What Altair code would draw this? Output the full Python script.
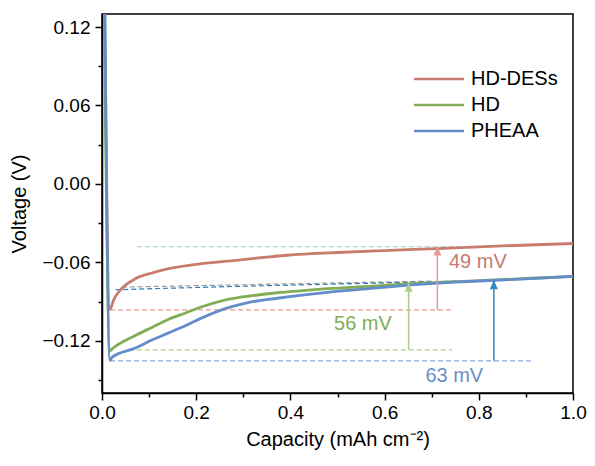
import altair as alt
import pandas as pd

FONT = "Liberation Sans"

# ---- data ----
series_names = ["HD-DESs", "HD", "PHEAA"]
series_colors = ["#C97B6E", "#83AD55", "#638DC8"]

cap_hddess = [0.0035, 0.017, 0.025, 0.035, 0.0708, 0.106, 0.1415, 0.212, 0.283, 0.393, 0.5, 0.6, 0.711, 0.85, 1.0]
v_hddess = [0.20, -0.096, -0.0885, -0.0829, -0.0726, -0.0682, -0.0649, -0.061, -0.0585, -0.0546, -0.0525, -0.051, -0.0495, -0.0475, -0.0456]

cap_hd = [0.003, 0.017, 0.021, 0.0708, 0.106, 0.1415, 0.177, 0.212, 0.265, 0.32, 0.372, 0.42, 0.478, 0.584, 0.651, 0.8, 0.9, 1.0]
v_hd = [0.20, -0.1277, -0.1264, -0.116, -0.1098, -0.1036, -0.0988, -0.0940, -0.0885, -0.0855, -0.0833, -0.0818, -0.0802, -0.0780, -0.0764, -0.0740, -0.0724, -0.0708]

cap_pheaa = [0.0045, 0.017, 0.021, 0.0708, 0.106, 0.1415, 0.177, 0.212, 0.265, 0.308, 0.372, 0.42, 0.478, 0.584, 0.651, 0.75, 0.832, 0.9, 1.0]
v_pheaa = [0.20, -0.135, -0.1328, -0.1256, -0.1195, -0.1140, -0.1085, -0.1025, -0.0950, -0.0910, -0.0875, -0.0853, -0.0830, -0.0796, -0.0775, -0.0752, -0.0738, -0.0726, -0.0708]

# dashed guide lines
guide_ids = ["cyan", "gray", "blue", "red", "green", "lightblue"]
guide_x = [[0.074, 0.80], [0.042, 0.42, 0.70], [0.028, 0.265, 0.83], [0.017, 0.743], [0.057, 0.743], [0.017, 0.913]]
guide_y = [[-0.048, -0.048], [-0.079, -0.0763, -0.0744], [-0.081, -0.0786, -0.0738],
           [-0.0964, -0.0964], [-0.127, -0.127], [-0.1354, -0.1354]]
guide_colors = ["#A8DCD6", "#9A9A9A", "#2A7FC0", "#E39C92", "#B9D08F", "#86A8DD"]

# arrows
arrow_x = [0.712, 0.651, 0.832]
arrow_from = [-0.0964, -0.127, -0.1354]
arrow_to = [-0.048, -0.0758, -0.0738]
arrow_colors = ["#E39C92", "#AFCB8C", "#2F87C6"]

# annotations
label_text = ["49 mV", "56 mV", "63 mV"]
label_x = [0.798, 0.554, 0.748]
label_y = [-0.060, -0.107, -0.147]
label_colors = ["#C97B6E", "#83AD55", "#6A8FC8"]

x_ticks = [round(i * 0.1, 1) for i in range(11)]
y_ticks = [-0.15, -0.12, -0.09, -0.06, -0.03, 0.0, 0.03, 0.06, 0.09, 0.12]

# ---- build tables ----
rows = []
for name, xs, ys in [("HD-DESs", cap_hddess, v_hddess), ("HD", cap_hd, v_hd), ("PHEAA", cap_pheaa, v_pheaa)]:
    for i, (a, b) in enumerate(zip(xs, ys)):
        rows.append({"series": name, "cap": a, "v": b, "ord": i})
curves = pd.DataFrame(rows)

grows = []
for gid, xs, ys, col in zip(guide_ids, guide_x, guide_y, guide_colors):
    for i, (a, b) in enumerate(zip(xs, ys)):
        grows.append({"gid": gid, "cap": a, "v": b, "col": col, "ord": i})
guides = pd.DataFrame(grows)

arrows = pd.DataFrame({"cap": arrow_x, "v0": arrow_from, "v1": arrow_to, "col": arrow_colors})
labels = pd.DataFrame({"cap": label_x, "v": label_y, "txt": label_text, "col": label_colors})

xscale = alt.Scale(domain=[0, 1], nice=False, zero=False)
yscale = alt.Scale(domain=[-0.16, 0.13], nice=False, zero=False)

x_axis = alt.Axis(
    values=x_ticks, format=".1f", title="Capacity (mAh cm⁻²)",
    labelExpr="abs(datum.value*5 - round(datum.value*5)) < 0.001 ? datum.label : ''",
    tickSize={"condition": {"test": "abs(datum.value*5 - round(datum.value*5)) < 0.001", "value": 7}, "value": 4},
    labelOverlap=False, labelFlush=False, grid=False,
    labelPadding=3, titlePadding=7,
)
y_axis = alt.Axis(
    values=y_ticks, format=".2f", title="Voltage (V)",
    labelExpr="abs(datum.value/0.06 - round(datum.value/0.06)) < 0.001 ? datum.label : ''",
    tickSize={"condition": {"test": "abs(datum.value/0.06 - round(datum.value/0.06)) < 0.001", "value": 7}, "value": 4},
    labelOverlap=False, labelFlush=False, grid=False,
    labelPadding=5, titlePadding=12,
)

X = alt.X("cap:Q", scale=xscale, axis=x_axis)
Y = alt.Y("v:Q", scale=yscale, axis=y_axis)

guide_layer = alt.Chart(guides).mark_line(strokeDash=[5, 3], strokeWidth=1.2, clip=True).encode(
    x=alt.X("cap:Q", scale=xscale), y=alt.Y("v:Q", scale=yscale),
    detail="gid:N", order="ord:Q", color=alt.Color("col:N", scale=None),
)

curve_layer = alt.Chart(curves).mark_line(strokeWidth=2.8, clip=True, interpolate="monotone").encode(
    x=X, y=Y, order="ord:Q",
    color=alt.Color(
        "series:N",
        scale=alt.Scale(domain=series_names, range=series_colors),
        sort=series_names,
        legend=alt.Legend(
            title=None, orient="none", legendX=327, legendY=55,
            symbolType="M-5,0L5,0", symbolSize=100, symbolStrokeWidth=2.5,
            labelFontSize=20, labelFont=FONT, labelOffset=22, rowPadding=6,
            labelColor="black",
        ),
    ),
)

stem_layer = alt.Chart(arrows).mark_rule(strokeWidth=1.5).encode(
    x=alt.X("cap:Q", scale=xscale), y=alt.Y("v0:Q", scale=yscale), y2="v1:Q",
    color=alt.Color("col:N", scale=None),
)
head_layer = alt.Chart(arrows).mark_point(
    shape="M0,0L-1,2.2L1,2.2Z", size=64, filled=True, opacity=1, strokeWidth=0,
).encode(
    x=alt.X("cap:Q", scale=xscale), y=alt.Y("v1:Q", scale=yscale),
    color=alt.Color("col:N", scale=None),
)

text_layer = alt.Chart(labels).mark_text(fontSize=20, font=FONT, align="center", baseline="middle").encode(
    x=alt.X("cap:Q", scale=xscale), y=alt.Y("v:Q", scale=yscale), text="txt:N",
    color=alt.Color("col:N", scale=None),
)

chart = alt.layer(guide_layer, curve_layer, stem_layer, head_layer, text_layer).properties(
    width=471, height=379,
    autosize=alt.AutoSizeParams(type="none"),
    padding={"left": 94, "top": 6, "right": 14, "bottom": 65},
    background="white",
).configure_view(stroke="black", strokeWidth=1.5).configure_axis(
    domainColor="black", domainWidth=1.5, tickColor="black", tickWidth=1.5,
    labelFont=FONT, titleFont=FONT, labelFontSize=19, titleFontSize=20,
    labelColor="black", titleColor="black", titleFontWeight="normal",
)

chart.save("out.html", embed_options={"renderer": "svg", "actions": False})
